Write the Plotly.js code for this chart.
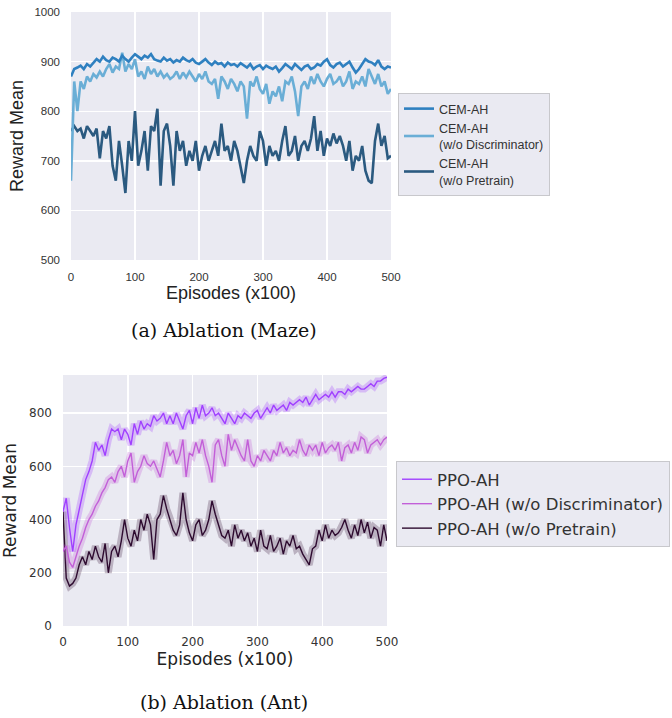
<!DOCTYPE html>
<html>
<head>
<meta charset="utf-8">
<script src="https://cdn.plot.ly/plotly-3.0.1.min.js"></script>
<style>
  html, body { margin: 0; padding: 0; background: #ffffff; }
  #chart { width: 672px; height: 718px; }
</style>
</head>
<body>
<div id="chart"></div>
<script>
// ---------- data ----------
const episodes = [0,5,10,15,20,25,30,35,40,45,50,55,60,65,70,75,80,85,90,95,
  100,105,110,115,120,125,130,135,140,145,150,155,160,165,170,175,180,185,190,195,
  200,205,210,215,220,225,230,235,240,245,250,255,260,265,270,275,280,285,290,295,
  300,305,310,315,320,325,330,335,340,345,350,355,360,365,370,375,380,385,390,395,
  400,405,410,415,420,425,430,435,440,445,450,455,460,465,470,475,480,485,490,495,500];

// (a) Ablation (Maze)
const mazeNames = ["CEM-AH", "CEM-AH<br>(w/o Discriminator)", "CEM-AH<br>(w/o Pretrain)"];
const mazeCemAh = [870,885,888,892,885,895,890,898,905,900,910,903,900,908,905,900,912,905,900,908,
  915,910,905,912,908,915,905,902,900,908,902,905,898,903,900,908,903,900,905,898,
  895,900,905,898,893,900,895,897,890,898,893,895,890,897,892,888,895,885,890,893,
  885,892,888,885,890,880,887,895,890,885,895,888,883,890,893,885,888,895,892,900,
  905,893,888,895,898,890,895,900,888,878,885,895,905,900,898,893,903,890,885,890,888];
const mazeNoDisc = [660,860,800,860,845,870,860,875,868,880,870,885,895,878,890,885,918,880,895,885,
  905,870,880,865,890,875,885,870,880,868,875,865,870,880,865,878,868,880,870,860,
  875,865,880,860,855,865,825,870,860,845,865,855,840,860,850,785,860,850,870,845,
  835,855,815,840,830,850,820,860,855,870,840,790,850,860,845,870,855,875,860,850,
  865,875,855,860,870,850,860,880,845,860,855,870,850,885,870,855,875,850,860,835,845];
const mazeNoPre = [760,770,760,765,745,770,760,750,765,705,760,745,770,690,660,740,690,635,740,700,
  800,690,720,760,680,770,760,805,650,760,775,730,650,760,720,740,690,720,700,740,
  680,710,730,700,720,740,710,775,720,730,700,740,720,690,655,700,730,710,700,760,
  740,690,730,710,720,700,740,770,710,720,750,700,730,740,720,745,790,720,760,710,
  745,730,755,735,750,730,700,740,680,710,700,730,680,660,655,740,775,730,750,705,710];

// (b) Ablation (Ant)
const antNames = ["PPO-AH", "PPO-AH (w/o Discriminator)", "PPO-AH (w/o Pretrain)"];
const antPpoAh = [430,480,370,280,380,440,500,550,580,620,690,660,680,640,700,740,730,740,700,740,
  720,680,760,720,770,740,760,750,790,770,780,800,760,790,760,800,770,740,790,810,
  760,820,780,830,790,800,820,790,800,780,760,800,780,760,790,780,800,790,780,800,
  810,780,800,820,800,830,810,820,830,810,840,830,840,850,840,860,830,850,870,850,
  860,870,860,880,860,880,880,870,890,880,890,900,890,890,900,910,900,920,920,930,935];
const antNoDisc = [280,300,240,220,260,300,330,370,400,420,450,470,500,520,550,560,540,580,600,560,
  620,650,540,580,600,640,610,600,620,590,560,620,690,640,660,610,640,700,560,650,
  640,690,650,700,640,600,540,680,700,640,600,720,660,700,670,640,620,700,620,600,
  640,620,660,640,620,660,640,690,650,670,640,660,650,700,660,640,680,660,680,640,
  690,650,670,680,660,690,620,670,680,650,690,660,710,700,650,680,690,700,680,700,710];
const antNoPre = [430,180,150,160,180,230,260,230,280,250,300,260,240,310,200,280,300,260,320,400,
  330,300,360,320,400,360,420,380,250,400,420,490,440,400,360,340,380,500,400,350,
  320,380,400,340,360,400,470,420,380,340,330,360,300,380,330,360,320,350,300,330,
  280,360,300,290,340,280,300,330,270,320,300,340,290,300,270,250,230,290,300,360,
  320,380,330,360,340,350,370,400,360,330,380,340,400,350,390,330,370,360,300,380,320];

const mazeColors = ["#2f80c0", "#6aaed6", "#2b5a80"];
const antColors = ["#a040ff", "#c25fd8", "#2e0b30"];
const antBand = ["rgba(160,64,255,0.28)", "rgba(194,95,216,0.28)", "rgba(46,11,48,0.25)"];

// ---------- traces ----------
const traces = [];
const mazeSeries = [mazeCemAh, mazeNoDisc, mazeNoPre];
[2, 1, 0].forEach(i => {
  traces.push({
    x: episodes, y: mazeSeries[i], type: "scatter", mode: "lines",
    name: mazeNames[i], legend: "legend", legendrank: i + 1,
    line: { color: mazeColors[i], width: 2.6 },
    xaxis: "x", yaxis: "y", hoverinfo: "skip"
  });
});

const antSeries = [antPpoAh, antNoDisc, antNoPre];
[2, 1, 0].forEach(i => {
  // soft band under each line (same values, wide translucent stroke)
  traces.push({
    x: episodes, y: antSeries[i], type: "scatter", mode: "lines",
    showlegend: false, legend: "legend2",
    line: { color: antBand[i], width: 7 },
    xaxis: "x2", yaxis: "y2", hoverinfo: "skip"
  });
  traces.push({
    x: episodes, y: antSeries[i], type: "scatter", mode: "lines",
    name: antNames[i], legend: "legend2", legendrank: i + 1,
    line: { color: antColors[i], width: 1.4 },
    xaxis: "x2", yaxis: "y2", hoverinfo: "skip"
  });
});

// ---------- layout ----------
const W = 672, H = 718;
const px = v => v / W;
const py = v => 1 - v / H;

const sans = "Liberation Sans, Arial, sans-serif";
const dj = "DejaVu Sans, sans-serif";
const serif = "DejaVu Serif, serif";

const layout = {
  width: W, height: H,
  margin: { l: 0, r: 0, t: 0, b: 0 },
  paper_bgcolor: "#ffffff",
  plot_bgcolor: "#eaeaf2",
  showlegend: true,
  xaxis: {
    domain: [px(71), px(391)], range: [0, 500], anchor: "y",
    tickvals: [0, 100, 200, 300, 400, 500],
    showgrid: true, gridcolor: "#ffffff", gridwidth: 1.4, zeroline: false,
    showline: false, ticks: "", ticklabelstandoff: 8,
    tickfont: { family: sans, size: 11.5, color: "#333333" },
    title: { text: "Episodes (x100)", font: { family: sans, size: 18, color: "#222222" }, standoff: 4 }
  },
  yaxis: {
    domain: [py(260), py(12)], range: [500, 1000], anchor: "x",
    tickvals: [500, 600, 700, 800, 900, 1000],
    showgrid: true, gridcolor: "#ffffff", gridwidth: 1.4, zeroline: false,
    showline: false, ticks: "", ticklabelstandoff: 10,
    tickfont: { family: sans, size: 11.5, color: "#333333" },
    title: { text: "Reward Mean", font: { family: sans, size: 18, color: "#222222" }, standoff: 6 }
  },
  xaxis2: {
    domain: [px(63), px(387)], range: [0, 500], anchor: "y2",
    tickvals: [0, 100, 200, 300, 400, 500],
    showgrid: true, gridcolor: "#ffffff", gridwidth: 1.4, zeroline: false,
    showline: false, ticks: "", ticklabelstandoff: 7,
    tickfont: { family: dj, size: 12, color: "#333333" },
    title: { text: "Episodes (x100)", font: { family: dj, size: 17, color: "#222222" }, standoff: 4 }
  },
  yaxis2: {
    domain: [py(626), py(375)], range: [0, 943], anchor: "x2",
    tickvals: [0, 200, 400, 600, 800],
    showgrid: true, gridcolor: "#ffffff", gridwidth: 1.4, zeroline: false,
    showline: false, ticks: "", ticklabelstandoff: 10,
    tickfont: { family: dj, size: 12, color: "#333333" },
    title: { text: "Reward Mean", font: { family: dj, size: 17, color: "#222222" }, standoff: 8 }
  },
  legend: {
    x: px(398), y: py(93), xanchor: "left", yanchor: "top",
    bgcolor: "#eaeaf2", bordercolor: "#c8c8cc", borderwidth: 1,
    font: { family: sans, size: 12.5, color: "#333333" },
    tracegroupgap: 0, itemwidth: 30
  },
  legend2: {
    x: px(396), y: py(461), xanchor: "left", yanchor: "top",
    bgcolor: "#eaeaf2", bordercolor: "#c8c8cc", borderwidth: 1,
    font: { family: dj, size: 16.5, color: "#333333" },
    tracegroupgap: 0, itemwidth: 30
  },
  annotations: [
    { text: "(a) Ablation (Maze)", xref: "paper", yref: "paper",
      x: px(224), y: py(330), xanchor: "center", yanchor: "middle", showarrow: false,
      font: { family: serif, size: 19, color: "#111111" } },
    { text: "(b) Ablation (Ant)", xref: "paper", yref: "paper",
      x: px(224), y: py(702), xanchor: "center", yanchor: "middle", showarrow: false,
      font: { family: serif, size: 19, color: "#111111" } }
  ]
};

Plotly.newPlot("chart", traces, layout, { staticPlot: true, displayModeBar: false });
</script>
</body>
</html>
